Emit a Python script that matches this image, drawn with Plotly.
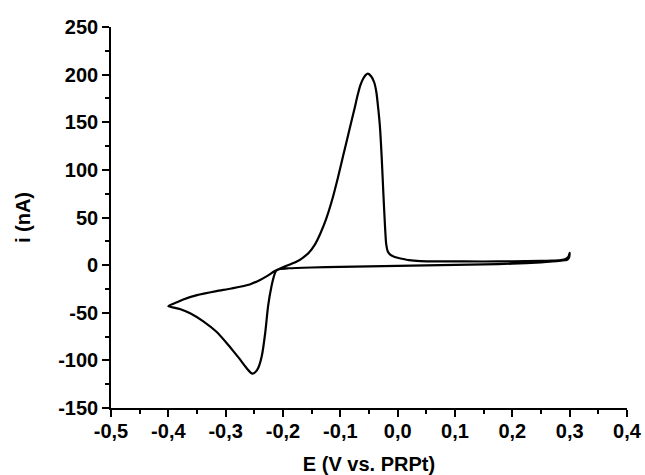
import plotly.graph_objects as go

# Forward sweep (-0.4 V -> 0.3 V), anodic peak near -0.05 V
fwd_E = [-0.400, -0.385, -0.374, -0.350, -0.316, -0.290, -0.258, -0.240, -0.228,
         -0.215, -0.205, -0.195, -0.188, -0.175, -0.165, -0.155, -0.145, -0.135,
         -0.125, -0.115, -0.105, -0.095, -0.085, -0.075, -0.070, -0.065, -0.060,
         -0.056, -0.052, -0.046, -0.041, -0.037, -0.034, -0.031, -0.028, -0.025,
         -0.022, -0.020, -0.017, -0.013, -0.005, 0.005, 0.020, 0.040, 0.080,
         0.150, 0.200, 0.250, 0.270, 0.285, 0.293, 0.298, 0.300]
fwd_i = [-43.0, -39.0, -36.0, -31.5, -27.3, -24.5, -20.3, -15.5, -11.6,
         -6.5, -3.5, -1.0, 0.6, 4.0, 8.0, 13.0, 21.0, 33.0,
         48.0, 67.0, 90.0, 115.0, 140.0, 165.0, 178.0, 189.0, 196.0,
         199.5, 201.0, 198.0, 192.0, 181.0, 165.0, 146.0, 115.0, 76.0,
         40.0, 22.0, 14.0, 11.0, 8.5, 7.0, 5.2, 4.3, 4.0,
         3.8, 4.0, 4.4, 4.8, 5.2, 6.5, 9.0, 13.0]

# Reverse sweep (0.3 V -> -0.4 V), cathodic peak near -0.255 V
rev_E = [0.299, 0.295, 0.285, 0.270, 0.250, 0.200, 0.150, 0.100, 0.050, 0.000,
         -0.050, -0.100, -0.150, -0.190, -0.205, -0.212, -0.216, -0.220, -0.226,
         -0.231, -0.237, -0.243, -0.2485, -0.253, -0.2575, -0.265, -0.275,
         -0.287, -0.298, -0.316, -0.339, -0.362, -0.380, -0.400]
rev_i = [8.0, 5.5, 4.8, 3.8, 2.8, 1.5, 0.8, 0.3, -0.3, -0.8,
         -1.3, -1.8, -2.5, -3.3, -4.0, -6.0, -12.0, -22.0, -43.0,
         -71.0, -95.5, -107.7, -112.5, -114.0, -112.3, -107.0, -99.0,
         -90.0, -82.0, -70.0, -59.0, -50.5, -46.0, -43.0]

E = fwd_E + rev_E
current = fwd_i + rev_i

x_ticks = [-0.5, -0.4, -0.3, -0.2, -0.1, 0.0, 0.1, 0.2, 0.3, 0.4]
x_labels = ["-0,5", "-0,4", "-0,3", "-0,2", "-0,1", "0,0", "0,1", "0,2", "0,3", "0,4"]
y_ticks = [-150, -100, -50, 0, 50, 100, 150, 200, 250]
y_labels = ["-150", "-100", "-50", "0", "50", "100", "150", "200", "250"]

font_family = "Liberation Sans"


def bold(labels):
    return ["<b>" + s + "</b>" for s in labels]


fig = go.Figure(
    go.Scatter(
        x=E, y=current, mode="lines",
        line=dict(color="black", width=2.2, shape="spline", smoothing=0.6),
        showlegend=False,
    )
)

axis_common = dict(
    showline=True, linecolor="black", linewidth=1.6,
    ticks="outside", ticklen=7, tickwidth=1.6, tickcolor="black",
    showgrid=False, zeroline=False, mirror=False,
    tickfont=dict(family=font_family, size=20, color="black", weight=700),
)

fig.update_xaxes(
    range=[-0.5, 0.4], tickmode="array", tickvals=x_ticks, ticktext=bold(x_labels),
    ticklabelstandoff=-3,
    minor=dict(ticks="outside", ticklen=4, tickwidth=1.6, tickcolor="black",
               tickmode="linear", tick0=-0.5, dtick=0.05),
    title=dict(text="<b>E (V vs. PRPt)</b>", standoff=16,
               font=dict(family=font_family, size=20, color="black", weight=700)),
    **axis_common,
)
fig.update_yaxes(
    range=[-150, 250], tickmode="array", tickvals=y_ticks, ticktext=bold(y_labels),
    minor=dict(ticks="outside", ticklen=4, tickwidth=1.6, tickcolor="black",
               tickmode="linear", tick0=-150, dtick=25),
    title=dict(text="<b>i (nA)</b>", standoff=22,
               font=dict(family=font_family, size=20, color="black", weight=700)),
    **axis_common,
)

fig.update_layout(
    width=645, height=475,
    margin=dict(l=111, r=18, t=27, b=67, autoexpand=False),
    paper_bgcolor="white", plot_bgcolor="white",
)

fig.write_html("out.html")
